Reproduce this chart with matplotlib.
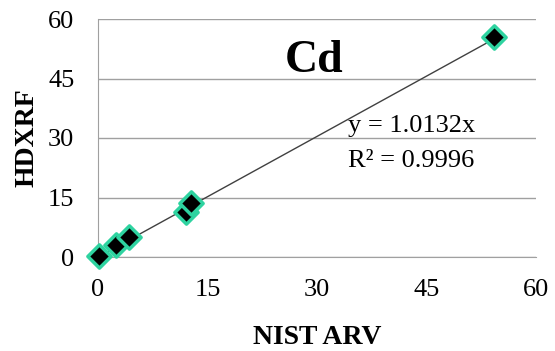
import matplotlib.pyplot as plt
import numpy as np

nist_arv = [0.2, 2.5, 4.2, 12.1, 12.7, 54.2]
hdxrf = [0.2, 3.0, 5.0, 11.4, 13.5, 55.5]
slope = 1.0132
ticks = [0, 15, 30, 45, 60]

plt.rcParams['font.family'] = ['Liberation Serif', 'DejaVu Serif']

fig = plt.figure(figsize=(5.55, 3.51), dpi=100)
ax = fig.add_axes([98 / 555, 1 - 257 / 351, (536 - 98) / 555, (257 - 19) / 351])

ax.set_xlim(0, 60)
ax.set_ylim(0, 60)
ax.set_xticks(ticks)
ax.set_yticks(ticks)
ax.grid(True, axis='y', color='#a0a0a0', linewidth=1)
ax.set_axisbelow(True)
for s in ['top', 'right']:
    ax.spines[s].set_visible(False)
for s in ['left', 'bottom']:
    ax.spines[s].set_color('#a0a0a0')
ax.tick_params(length=0, labelsize=19)
ax.tick_params(axis='y', pad=17)
ax.tick_params(axis='x', pad=16)

xl = np.array([0, max(nist_arv)])
ax.plot(xl, slope * xl, color='#404040', linewidth=1, zorder=2)
ax.scatter(nist_arv, hdxrf, marker='D', s=140, c='black', edgecolors='#2ed3a0',
           linewidths=2.5, zorder=3, clip_on=False)

ax.text(0.493, 0.777, 'Cd', transform=ax.transAxes, fontsize=33, fontweight='bold',
        ha='center', va='baseline')
ax.text(0.571, 0.525, 'y = 1.0132x', transform=ax.transAxes,
        fontsize=19, ha='left', va='baseline')
ax.text(0.571, 0.378, 'R\u00b2 = 0.9996', transform=ax.transAxes,
        fontsize=19, ha='left', va='baseline')

ax.set_xlabel('NIST ARV', fontsize=20, fontweight='bold', va='center')
ax.set_ylabel('HDXRF', fontsize=20, fontweight='bold', va='center')
ax.xaxis.set_label_coords(0.5, -(338 - 257) / 238)
ax.yaxis.set_label_coords(-(98 - 27) / 438, 0.5)

fig.savefig('out.png', dpi=100)
